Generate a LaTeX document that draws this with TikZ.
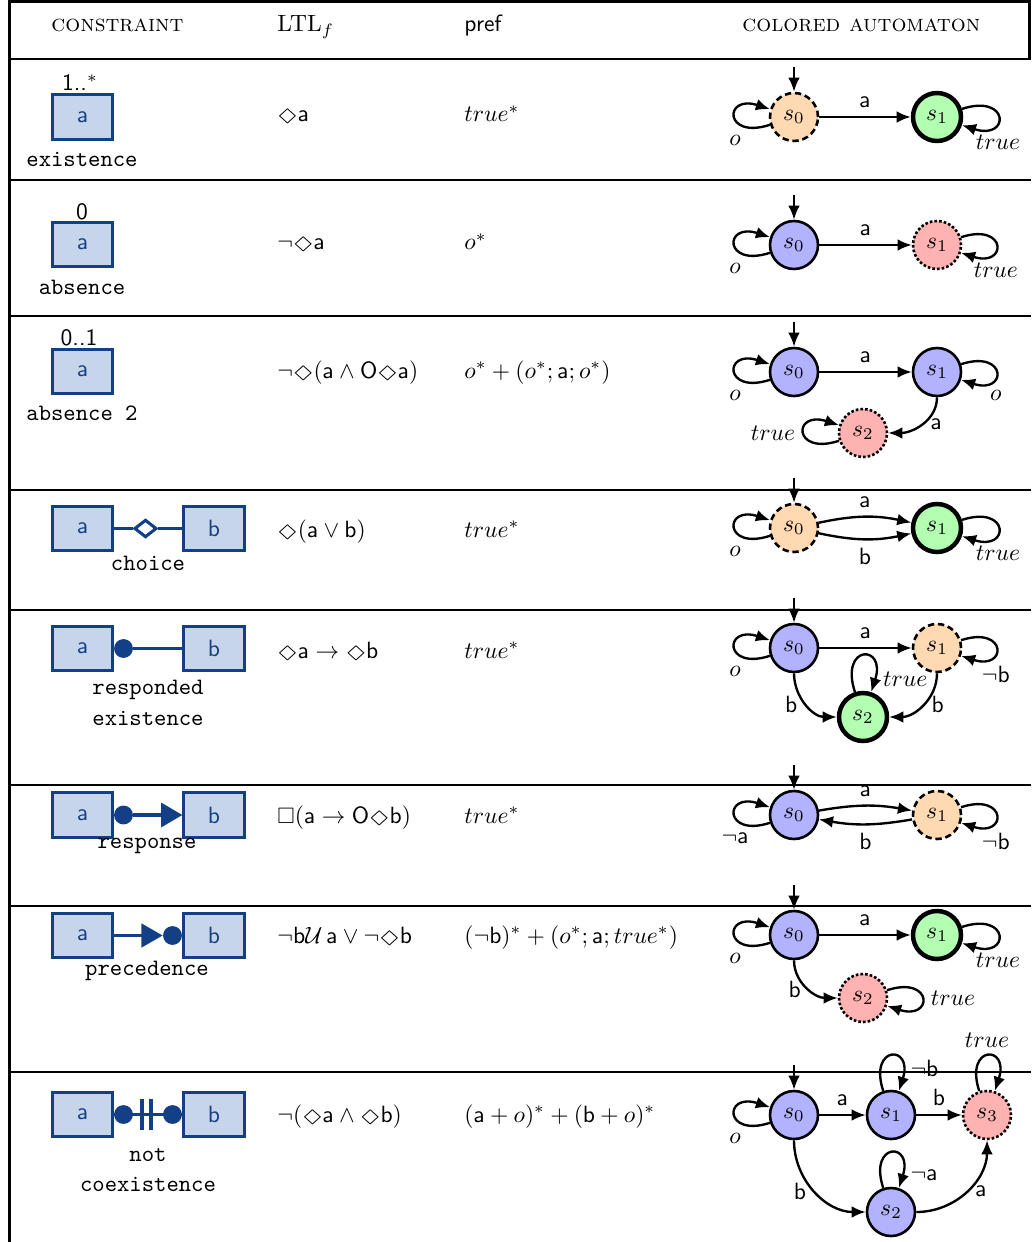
\documentclass[tikz,border=0pt]{standalone}
\usepackage{amsmath,amssymb,graphicx}
\usetikzlibrary{arrows.meta,shapes.geometric}
\definecolor{cblue}{HTML}{123F86}
\definecolor{cfill}{HTML}{C6D5EA}
\newcommand{\evt}{\mathord{\scalebox{1.3}[0.75]{$\Diamond$}}}
\newcommand{\alw}{\mathord{\scalebox{0.95}{$\Box$}}}
\newcommand{\nx}{\mathsf{O}}
\newcommand{\acta}{\mathsf{a}}
\newcommand{\actb}{\mathsf{b}}
\tikzset{
 tline/.style={line width=1.2pt},
 hd/.style={anchor=base west, inner sep=0pt},
 fm/.style={anchor=base west, inner sep=0pt},
 cbox/.style={draw=cblue, fill=cfill, line width=1.3pt, minimum width=25.6pt, minimum height=18.8pt, inner sep=0pt, text=cblue, font=\sffamily},
 cname/.style={font=\ttfamily, align=center, inner sep=0pt},
 card/.style={font=\sffamily, inner sep=0pt},
 cline/.style={draw=cblue, line width=1.3pt},
 cdot/.style={circle, fill=cblue, minimum size=8pt, inner sep=0pt},
 cdia/.style={diamond, draw=cblue, fill=white, line width=1.3pt, minimum width=9.5pt, minimum height=7.5pt, inner sep=0pt},
 st/.style={circle, draw=black, line width=1.1pt, minimum size=20.4pt, inner sep=0pt},
 sblue/.style={st, fill=blue!30},
 sorange/.style={st, fill=orange!30, dash pattern=on 2.7pt off 1.6pt},
 sgreen/.style={st, fill=green!30, line width=1.9pt},
 sred/.style={st, fill=red!30, dash pattern=on 1.1pt off 0.9pt},
 tr/.style={draw, line width=1pt, -{Latex[length=6pt,width=5pt]}},
 every loop/.style={tr, looseness=8},
 lleft/.style={out=198, in=162, loop},
 lright/.style={out=18, in=-18, loop},
 labove/.style={out=108, in=72, loop}
}
\begin{document}
\begin{tikzpicture}[x=0.425pt,y=0.425pt]
\useasboundingbox (0,0) rectangle (1031,-1242);
% table rules
\draw[tline] (9.5,0) -- (9.5,-1242);
\draw[tline] (9.5,-1.8) -- (1031,-1.8);
\draw[tline] (1029.5,0) -- (1029.5,-59);
\foreach \yy in {59,180,316,490,610,785,906,1072}
  \draw[tline] (9.5,-\yy) -- (1031,-\yy);
% header
\node[hd] (h1) at (51,-32) {\textsc{constraint}};
\node[hd] (h2) at (277,-32) {LTL$_f$};
\node[hd] (h3) at (464,-32) {\textsf{pref}};
\node[hd] (h4) at (742,-32) {\textsc{colored automaton}};

% ---------- constraint column
% row 1
\node[cbox] (c1a) at (82.5,-117) {a};
\node[card, anchor=base] (c1n) at (80,-91) {1..$^*$};
\node[cname] (c1t) at (82,-159) {existence};
% row 2
\node[cbox] (c2a) at (82.5,-244.5) {a};
\node[card] (c2n) at (82,-212) {0};
\node[cname] (c2t) at (82,-287) {absence};
% row 3
\node[cbox] (c3a) at (82.5,-371.5) {a};
\node[card] (c3n) at (79,-338) {0..1};
\node[cname] (c3t) at (82,-413) {absence 2};
% row 4
\node[cbox] (c4a) at (82.5,-528.5) {a};
\node[cbox] (c4b) at (214,-528.5) {b};
\node[cdia] (c4d) at (145.5,-528.5) {};
\draw[cline] (c4a.east) -- (c4d.west);
\draw[cline] (c4d.east) -- (c4b.west);
\node[cname] (c4t) at (148,-563) {choice};
% row 5
\node[cbox] (c5a) at (82.5,-648.5) {a};
\node[cbox] (c5b) at (214,-648.5) {b};
\node[cdot] (c5d) at (123.5,-648.5) {};
\draw[cline] (c5d) -- (c5b.west);
\node[cname] (c5t) at (148,-703) {responded\\[1pt]existence};
% row 6
\node[cbox] (c6a) at (82.5,-815) {a};
\node[cbox] (c6b) at (214,-815) {b};
\node[cdot] (c6d) at (123.5,-815) {};
\draw[cline, -{Triangle[length=9pt,width=10.2pt]}] (c6d) -- (c6b.west);
\node[cname] (c6t) at (147,-846) {response};
% row 7
\node[cbox] (c7a) at (82.5,-935.5) {a};
\node[cbox] (c7b) at (214,-935.5) {b};
\node[cdot] (c7d) at (172.5,-935.5) {};
\draw[cline, -{Triangle[length=9pt,width=10pt]}] (c7a.east) -- (c7d.west);
\node[cname] (c7t) at (147,-971) {precedence};
% row 8
\node[cbox] (c8a) at (82.5,-1114.5) {a};
\node[cbox] (c8b) at (214,-1114.5) {b};
\draw[cline] (c8a.east) -- (c8b.west);
\node[cdot] (c8d) at (123.5,-1114.5) {};
\node[cdot] (c8e) at (172.5,-1114.5) {};
\draw[cline] (142,-1099) -- (142,-1130);
\draw[cline] (151,-1099) -- (151,-1130);
\node[cname] (c8t) at (148,-1170) {not\\[1pt]coexistence};

% ---------- LTLf column
\node[fm] (l1) at (277,-122) {$\evt\acta$};
\node[fm] (l2) at (277,-250) {$\neg\evt\acta$};
\node[fm] (l3) at (277,-378) {$\neg\evt(\acta\wedge\nx\evt\acta)$};
\node[fm] (l4) at (277,-537) {$\evt(\acta\vee\actb)$};
\node[fm] (l5) at (277,-658) {$\evt\acta\rightarrow\evt\actb$};
\node[fm] (l6) at (277,-823) {$\alw(\acta\rightarrow\nx\evt\actb)$};
\node[fm] (l7) at (277,-943) {$\neg\actb\mathcal{U}\,\acta\vee\neg\evt\actb$};
\node[fm] (l8) at (277,-1122) {$\neg(\evt\acta\wedge\evt\actb)$};

% ---------- pref column
\node[fm] (p1) at (464,-122) {$true^*$};
\node[fm] (p2) at (464,-250) {$o^*$};
\node[fm] (p3) at (464,-378) {$o^*+(o^*;\acta;o^*)$};
\node[fm] (p4) at (464,-537) {$true^*$};
\node[fm] (p5) at (464,-658) {$true^*$};
\node[fm] (p6) at (464,-823) {$true^*$};
\node[fm] (p7) at (464,-943) {$(\neg\actb)^*+(o^*;\acta;true^*)$};
\node[fm] (p8) at (464,-1122) {$(\acta+o)^*+(\actb+o)^*$};

% ---------- automata
% row 1
\node[sorange] (a1s0) at (794,-117) {$s_0$};
\node[sgreen] (a1s1) at (937,-117) {$s_1$};
\coordinate (a1i) at (794,-67);
\draw[tr] (a1i) -- (a1s0);
\draw[tr] (a1s0) -- node[above] {$\acta$} (a1s1);
\path (a1s0) edge[lleft] node[below=4pt] {$o$} ();
\path (a1s1) edge[lright] node[below=4pt] {$true$} ();
% row 2
\node[sblue] (a2s0) at (794,-245) {$s_0$};
\node[sred] (a2s1) at (937,-245) {$s_1$};
\coordinate (a2i) at (794,-195);
\draw[tr] (a2i) -- (a2s0);
\draw[tr] (a2s0) -- node[above] {$\acta$} (a2s1);
\path (a2s0) edge[lleft] node[below=4pt] {$o$} ();
\path (a2s1) edge[lright] node[below=4pt] {$true$} ();
% row 3
\node[sblue] (a3s0) at (794,-372) {$s_0$};
\node[sblue] (a3s1) at (937,-372) {$s_1$};
\node[sred] (a3s2) at (863,-433) {$s_2$};
\coordinate (a3i) at (794,-322);
\draw[tr] (a3i) -- (a3s0);
\draw[tr] (a3s0) -- node[above] {$\acta$} (a3s1);
\draw[tr] (a3s1) to[out=-90,in=0] node[right] {$\acta$} (a3s2);
\path (a3s0) edge[lleft] node[below=4pt] {$o$} ();
\path (a3s1) edge[lright] node[below=4pt] {$o$} ();
\path (a3s2) edge[lleft] node[left] {$true$} ();
% row 4
\node[sorange] (a4s0) at (794,-528) {$s_0$};
\node[sgreen] (a4s1) at (937,-528) {$s_1$};
\coordinate (a4i) at (794,-478);
\draw[tr] (a4i) -- (a4s0);
\draw[tr] (a4s0) to[bend left=12] node[above] {$\acta$} (a4s1);
\draw[tr] (a4s0) to[bend right=12] node[below] {$\actb$} (a4s1);
\path (a4s0) edge[lleft] node[below=4pt] {$o$} ();
\path (a4s1) edge[lright] node[below=4pt] {$true$} ();
% row 5
\node[sblue] (a5s0) at (794,-648) {$s_0$};
\node[sorange] (a5s1) at (937,-648) {$s_1$};
\node[sgreen] (a5s2) at (863,-717) {$s_2$};
\coordinate (a5i) at (794,-598);
\draw[tr] (a5i) -- (a5s0);
\draw[tr] (a5s0) -- node[above] {$\acta$} (a5s1);
\draw[tr] (a5s0) to[out=-90,in=180] node[left] {$\actb$} (a5s2);
\draw[tr] (a5s1) to[out=-90,in=0] node[right] {$\actb$} (a5s2);
\path (a5s0) edge[lleft] node[below=4pt] {$o$} ();
\path (a5s1) edge[lright] node[below=4pt] {$\neg\actb$} ();
\path (a5s2) edge[labove] node[pos=0.9,right] {$true$} ();
% row 6
\node[sblue] (a6s0) at (794,-815) {$s_0$};
\node[sorange] (a6s1) at (937,-815) {$s_1$};
\coordinate (a6i) at (794,-765);
\draw[tr] (a6i) -- (a6s0);
\draw[tr] (a6s0) to[bend left=10] node[above] {$\acta$} (a6s1);
\draw[tr] (a6s1) to[bend left=10] node[below] {$\actb$} (a6s0);
\path (a6s0) edge[lleft] node[below=4pt] {$\neg\acta$} ();
\path (a6s1) edge[lright] node[below=4pt] {$\neg\actb$} ();
% row 7
\node[sblue] (a7s0) at (794,-935) {$s_0$};
\node[sgreen] (a7s1) at (937,-935) {$s_1$};
\node[sred] (a7s2) at (863,-998) {$s_2$};
\coordinate (a7i) at (794,-885);
\draw[tr] (a7i) -- (a7s0);
\draw[tr] (a7s0) -- node[above] {$\acta$} (a7s1);
\draw[tr] (a7s0) to[out=-90,in=180] node[left,pos=0.55] {$\actb$} (a7s2);
\path (a7s0) edge[lleft] node[below=4pt] {$o$} ();
\path (a7s1) edge[lright] node[below=4pt] {$true$} ();
\path (a7s2) edge[lright] node[right] {$true$} ();
% row 8
\node[sblue] (a8s0) at (794,-1115) {$s_0$};
\node[sblue] (a8s1) at (891,-1115) {$s_1$};
\node[sred] (a8s3) at (987,-1115) {$s_3$};
\node[sblue] (a8s2) at (891,-1212) {$s_2$};
\coordinate (a8i) at (794,-1065);
\draw[tr] (a8i) -- (a8s0);
\draw[tr] (a8s0) -- node[above] {$\acta$} (a8s1);
\draw[tr] (a8s1) -- node[above] {$\actb$} (a8s3);
\draw[tr] (a8s0) to[out=-90,in=180] node[left] {$\actb$} (a8s2);
\draw[tr] (a8s2) to[out=0,in=-90] node[right] {$\acta$} (a8s3);
\path (a8s0) edge[lleft] node[below=4pt] {$o$} ();
\path (a8s1) edge[labove] node[pos=0.8,right] {$\neg\actb$} ();
\path (a8s3) edge[labove] node[above] {$true$} ();
\path (a8s2) edge[labove] node[pos=0.9,right] {$\neg\acta$} ();
\end{tikzpicture}
\end{document}
